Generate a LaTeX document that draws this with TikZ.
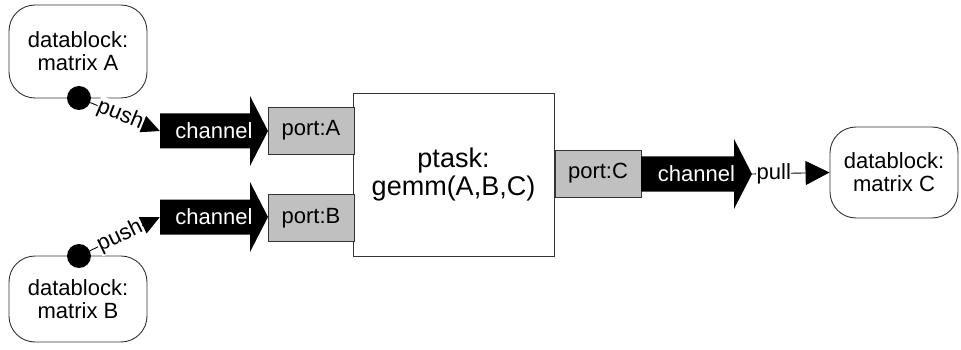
\documentclass[tikz,border=0pt]{standalone}
\usepackage{fontspec}
\setmainfont{Liberation Sans}
\usetikzlibrary{arrows.meta}
\definecolor{portgray}{HTML}{C0C0C0}
\definecolor{edge}{HTML}{333333}
\newcommand\chanshape[3]{% x0, yc, length
  \fill[black] (#1,#2-17.5) -- (#1+#3-18,#2-17.5) -- (#1+#3-18,#2-35) -- (#1+#3,#2)
    -- (#1+#3-18,#2+35) -- (#1+#3-18,#2+17.5) -- (#1,#2+17.5) -- cycle;}
\begin{document}
\begin{tikzpicture}[x=1pt,y=-1pt,
  txt/.style={font=\fontsize{22}{23}\selectfont},
  db/.style={txt, draw=edge, line width=0.9pt, rounded corners=26pt, fill=white, align=center, inner sep=0pt},
  dot/.style={circle, fill=black, inner sep=0pt, minimum size=24pt},
  chan/.style={txt, text=white, inner sep=0pt, minimum height=35pt},
  port/.style={txt, draw=edge, line width=0.9pt, fill=portgray, inner sep=0pt, minimum width=86pt, minimum height=47pt},
  task/.style={draw=edge, line width=0.9pt, fill=white, align=center, inner sep=0pt,
    font=\fontsize{27}{28}\selectfont},
  conn/.style={line width=0.9pt, -{Triangle[length=19pt,width=18pt]}},
  pullconn/.style={line width=0.9pt, -{Triangle[length=24pt,width=24pt]}},
  lbl/.style={txt, fill=white, inner sep=0.5pt}]
\useasboundingbox (0,0) rectangle (961,350);
% data blocks
\node[db, minimum width=138pt, minimum height=93pt] (dA) at (78,51.5) {datablock:\\matrix A};
\node[db, minimum width=138pt, minimum height=86pt] (dB) at (78,299) {datablock:\\matrix B};
\node[db, minimum width=128pt, minimum height=91pt] (dC) at (894,172.5) {datablock:\\matrix C};
\node[dot] (cA) at (79,98) {};
\node[dot] (cB) at (79,256) {};
% task
\node[task, minimum width=201pt, minimum height=163pt] (pt) at (453.5,174.5) {ptask:\\gemm(A,B,C)};
% ports
\node[port] (pA) at (311,130.5) {port:A};
\node[port] (pB) at (311,218) {port:B};
\node[port] (pC) at (598,173.5) {port:C};
% channels
\chanshape{160}{131}{108}
\node[chan, minimum width=108pt] (chA) at (214,131) {channel};
\chanshape{160}{217}{108}
\node[chan, minimum width=108pt] (chB) at (214,217) {channel};
\chanshape{641}{174}{111}
\node[chan, minimum width=111pt] (chC) at (696.5,174) {channel};
% connectors
\draw[conn] (cA) -- node[lbl, sloped, pos=0.43] {push} (chA.west);
\draw[conn] (cB) -- node[lbl, sloped, pos=0.43] {push} (chB.west);
\draw[pullconn] (chC.east) -- node[lbl, pos=0.28] {pull} (dC.west);
\end{tikzpicture}
\end{document}
